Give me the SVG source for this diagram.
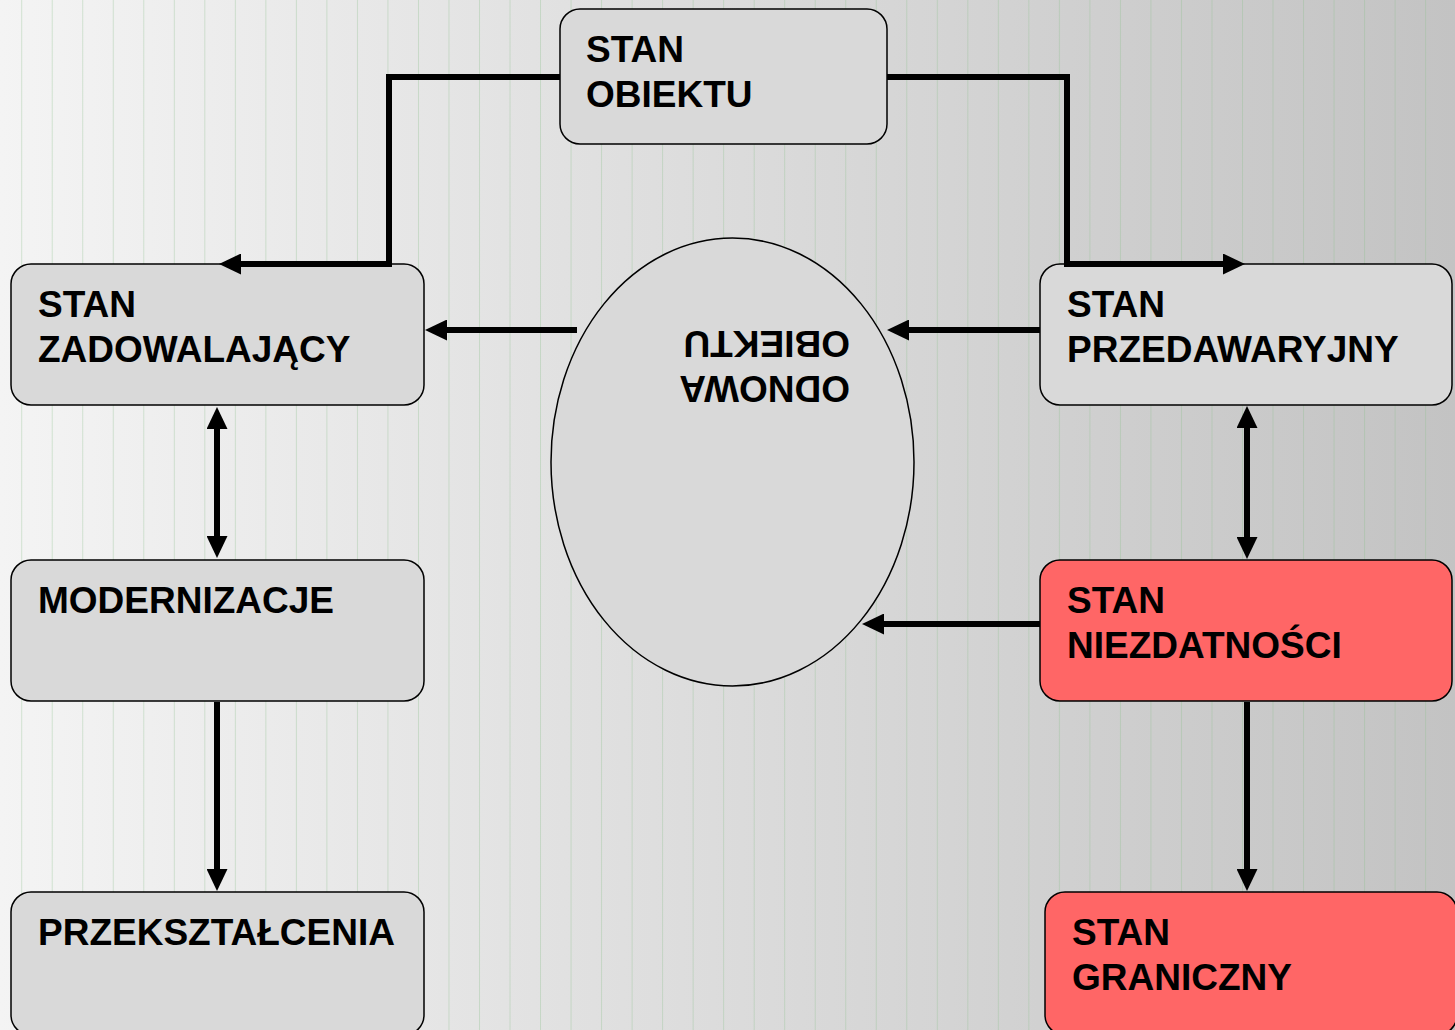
<svg xmlns="http://www.w3.org/2000/svg" width="1455" height="1030" viewBox="0 0 1455 1030">
<defs>
<linearGradient id="bg" x1="0" y1="0" x2="1" y2="0">
<stop offset="0" stop-color="#f4f4f4"/>
<stop offset="1" stop-color="#c3c3c3"/>
</linearGradient>
<pattern id="stripes" patternUnits="userSpaceOnUse" x="21.2" y="0" width="30.52" height="1030">
<line x1="0.5" y1="0" x2="0.5" y2="1030" stroke="#90c090" stroke-opacity="0.35" stroke-width="1"/>
</pattern>
<marker id="ah" viewBox="0 0 22 21" markerWidth="22" markerHeight="21" refX="11" refY="10.5" orient="auto-start-reverse" markerUnits="userSpaceOnUse">
<path d="M0,0 L22,10.5 L0,21 z" fill="#000"/>
</marker>
</defs>
<style>
.box{fill:#d9d9d9;stroke:#000;stroke-width:1.5}
.red{fill:#ff6666;stroke:#000;stroke-width:1.5}
.t{font-family:"Liberation Sans",Arial,sans-serif;font-weight:bold;font-size:37px;fill:#000}
.c{fill:none;stroke:#000;stroke-width:6;stroke-linejoin:miter}
</style>
<rect x="0" y="0" width="1455" height="1030" fill="url(#bg)"/>
<rect x="0" y="0" width="1455" height="1030" fill="url(#stripes)"/>
<g id="stan-obiektu">
<rect class="box" x="560" y="9" width="327" height="135" rx="20" ry="20"/>
<text class="t" x="586" y="62">STAN</text>
<text class="t" x="586" y="107">OBIEKTU</text>
</g>
<g id="odnowa-obiektu">
<ellipse class="box" cx="732.5" cy="462" rx="181.5" ry="224"/>
<g transform="rotate(180 732 462)">
<text class="t" x="614" y="548">ODNOWA</text>
<text class="t" x="614" y="593">OBIEKTU</text>
</g>
</g>
<g id="stan-zadowalajacy">
<rect class="box" x="11" y="264" width="413" height="141" rx="20" ry="20"/>
<text class="t" x="38" y="317">STAN</text>
<text class="t" x="38" y="362">ZADOWALAJĄCY</text>
</g>
<g id="modernizacje">
<rect class="box" x="11" y="560" width="413" height="141" rx="20" ry="20"/>
<text class="t" x="38" y="613">MODERNIZACJE</text>
</g>
<g id="przeksztalcenia">
<rect class="box" x="11" y="892" width="413" height="143" rx="20" ry="20"/>
<text class="t" x="38" y="945">PRZEKSZTAŁCENIA</text>
</g>
<g id="stan-przedawaryjny">
<rect class="box" x="1040" y="264" width="412" height="141" rx="20" ry="20"/>
<text class="t" x="1067" y="317">STAN</text>
<text class="t" x="1067" y="362">PRZEDAWARYJNY</text>
</g>
<g id="stan-niezdatnosci">
<rect class="red" x="1040" y="560" width="412" height="141" rx="20" ry="20"/>
<text class="t" x="1067" y="613">STAN</text>
<text class="t" x="1067" y="658">NIEZDATNOŚCI</text>
</g>
<g id="stan-graniczny">
<rect class="red" x="1045" y="892" width="412" height="143" rx="20" ry="20"/>
<text class="t" x="1072" y="945">STAN</text>
<text class="t" x="1072" y="990">GRANICZNY</text>
</g>
<g id="connectors">
<path class="c" d="M560,77 H389 V264 H230" marker-end="url(#ah)"/>
<path class="c" d="M887,77 H1067 V264 H1234" marker-end="url(#ah)"/>
<path class="c" d="M577,330 H436" marker-end="url(#ah)"/>
<path class="c" d="M1040,330 H898" marker-end="url(#ah)"/>
<path class="c" d="M1040,624 H873" marker-end="url(#ah)"/>
<path class="c" d="M217,418 V547" marker-start="url(#ah)" marker-end="url(#ah)"/>
<path class="c" d="M1247,417 V548" marker-start="url(#ah)" marker-end="url(#ah)"/>
<path class="c" d="M217,702 V880" marker-end="url(#ah)"/>
<path class="c" d="M1247,702 V880" marker-end="url(#ah)"/>
</g>
</svg>
